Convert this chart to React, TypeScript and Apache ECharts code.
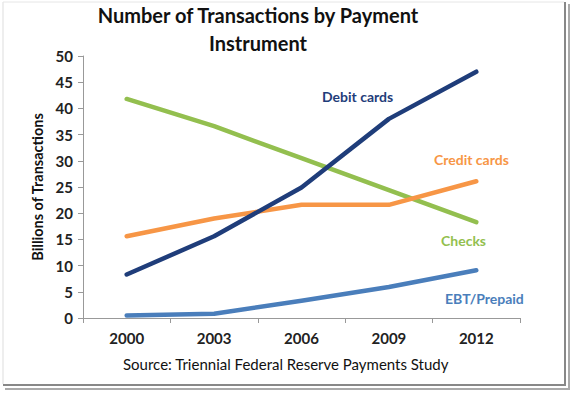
import React, { useEffect, useRef } from "react";
import * as echarts from "echarts";

const years = ["2000", "2003", "2006", "2009", "2012"];
const debitCards = [8.3, 15.6, 24.9, 38.0, 47.0];
const creditCards = [15.6, 19.0, 21.6, 21.6, 26.1];
const checks = [41.8, 36.6, 30.5, 24.4, 18.3];
const ebtPrepaid = [0.5, 0.8, 3.3, 5.9, 9.1];

const titleText = "Number of Transactions by Payment\nInstrument";
const yAxisName = "Billions of Transactions";
const sourceText = "Source: Triennial Federal Reserve Payments Study";

const C_DEBIT = "#1f3d7a";
const C_CREDIT = "#f79646";
const C_CHECKS = "#93bf4f";
const C_EBT = "#4a7ebb";

const FONT = "Lato, 'Open Sans', sans-serif";

export default function App() {
  const ref = useRef<HTMLDivElement>(null);
  useEffect(() => {
    if (!ref.current) return;
    const chart = echarts.init(ref.current, undefined, { renderer: "svg" });
    const mkSeries = (name: string, data: number[], color: string) => ({
      name,
      type: "line",
      data,
      symbol: "none",
      lineStyle: { color, width: 4.5, cap: "round", join: "round" },
      itemStyle: { color },
    });
    const lbl = (text: string, x: number, y: number, color: string) => ({
      type: "text",
      left: x,
      top: y,
      style: { text, fill: color, font: `bold 14px ${FONT}` },
    });
    chart.setOption({
      animation: false,
      backgroundColor: "#fff",
      textStyle: { fontFamily: FONT },
      title: {
        text: titleText,
        left: 258,
        textAlign: "center",
        top: 1,
        padding: 0,
        textStyle: { fontSize: 20, fontWeight: "bold", color: "#111", lineHeight: 28, fontFamily: FONT },
      },
      grid: { left: 83, right: 53, top: 56, bottom: 77, containLabel: false },
      xAxis: {
        type: "category",
        data: years,
        boundaryGap: true,
        axisLine: { lineStyle: { color: "#999", width: 1 } },
        axisTick: { show: true, length: 5, lineStyle: { color: "#999" } },
        axisLabel: { color: "#222", fontSize: 15, fontWeight: "bold", margin: 12, fontFamily: FONT },
      },
      yAxis: {
        type: "value",
        min: 0,
        max: 50,
        interval: 5,
        name: yAxisName,
        nameLocation: "middle",
        nameGap: 38,
        nameTextStyle: { color: "#111", fontSize: 14.5, fontWeight: "bold", fontFamily: FONT },
        axisLine: { show: true, lineStyle: { color: "#999", width: 1 } },
        axisTick: { show: true, length: 5, lineStyle: { color: "#999" } },
        splitLine: { show: false },
        axisLabel: { color: "#222", fontSize: 15, fontWeight: "bold", margin: 10, fontFamily: FONT },
      },
      series: [
        mkSeries("EBT/Prepaid", ebtPrepaid, C_EBT),
        mkSeries("Checks", checks, C_CHECKS),
        mkSeries("Credit cards", creditCards, C_CREDIT),
        mkSeries("Debit cards", debitCards, C_DEBIT),
      ],
      graphic: [
        lbl("Debit cards", 322, 89, C_DEBIT),
        lbl("Credit cards", 434, 152, C_CREDIT),
        lbl("Checks", 441, 233, C_CHECKS),
        lbl("EBT/Prepaid", 445, 291, C_EBT),
        {
          type: "text",
          left: 123,
          top: 356,
          style: { text: sourceText, fill: "#111", font: `15px ${FONT}` },
        },
        { type: "line", shape: { x1: 3, y1: 2, x2: 3, y2: 384 }, style: { stroke: "#ddd", lineWidth: 1 } },
        { type: "line", shape: { x1: 3, y1: 2, x2: 564, y2: 2 }, style: { stroke: "#e6e6e6", lineWidth: 1 } },
        { type: "line", shape: { x1: 565, y1: 2, x2: 565, y2: 385 }, style: { stroke: "#888", lineWidth: 2 } },
        { type: "line", shape: { x1: 3, y1: 385, x2: 566, y2: 385 }, style: { stroke: "#888", lineWidth: 2 } },
        { type: "line", shape: { x1: 569, y1: 4, x2: 569, y2: 389 }, style: { stroke: "#aaa", lineWidth: 2 } },
        { type: "line", shape: { x1: 5, y1: 389, x2: 570, y2: 389 }, style: { stroke: "#aaa", lineWidth: 2 } },
      ],
    });
    return () => chart.dispose();
  }, []);
  return (
    <div
      ref={ref}
      style={{ position: "fixed", left: 0, top: 0, width: 573, height: 395 }}
    />
  );
}
